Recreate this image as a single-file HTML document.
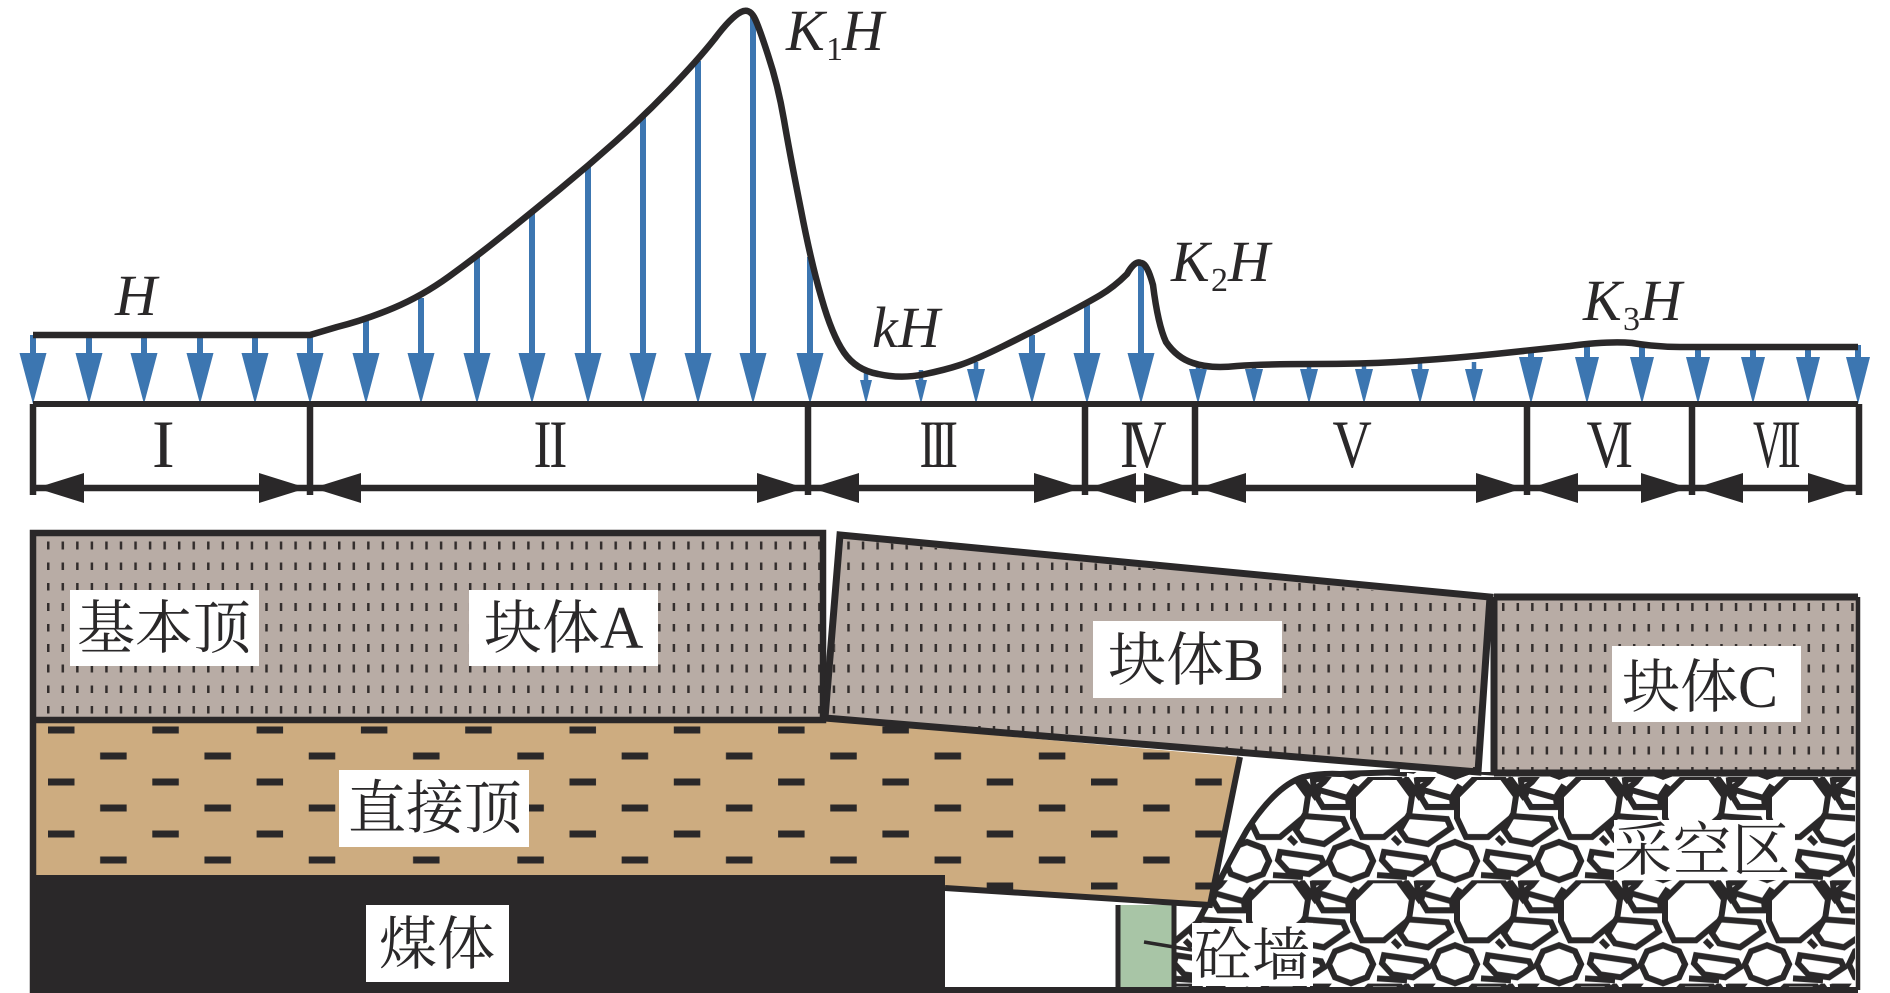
<!DOCTYPE html>
<html><head><meta charset="utf-8"><style>
html,body{margin:0;padding:0;background:#fff;width:1890px;height:993px;overflow:hidden}
svg{display:block}
.it{font-family:"Liberation Serif",serif;font-style:italic;font-size:58px;fill:#2a2829}
.sb{font-family:"Liberation Serif",serif;font-size:34px;fill:#2a2829}
.rn{font-family:"Liberation Serif",serif;font-size:68px;fill:#2a2829}
.cn{font-family:"Liberation Serif","Noto Serif CJK SC",serif;font-size:58px;fill:#2a2829}
</style></head><body>
<svg width="1890" height="993" viewBox="0 0 1890 993" xmlns="http://www.w3.org/2000/svg">
<defs>
<g id="t" fill="none" stroke="#2a2829" stroke-width="6">
<polygon points="22,0 48,0 62,19 59,39 34,60 12,60 3,41 3,19"/>
<polygon points="58,39 97,42 101,51 78,67 57,63 50,53"/>
<polygon points="73,13 102,21 103,30 77,30 71,20"/>
<polygon points="127,84 121,97 105,103 89,97 83,84 89,71 105,65 121,71"/>
<polygon points="23,84 17,97 1,103 -15,97 -21,84 -15,71 1,65 17,71"/>
<polygon points="34,75 75,81 78,87 63,97 42,94 32,83"/>
<polygon points="67,3 82,0 78,5 68,13"/>
<path d="M55,0L71,22M102,20L110,8M43,60L50,67M27,98L57,100"/>
</g>
<pattern id="rub" patternUnits="userSpaceOnUse" x="1350" y="777" width="104" height="103.3">
<use href="#t"/><use href="#t" x="-104"/><use href="#t" y="-103.3"/><use href="#t" x="-104" y="-103.3"/>
</pattern>
<pattern id="tick" patternUnits="userSpaceOnUse" x="47" y="541.5" width="14.55" height="20.5">
<rect width="2.5" height="8" fill="#332e2d"/>
</pattern>
<pattern id="dash" patternUnits="userSpaceOnUse" x="48" y="726.5" width="104.3" height="52">
<rect width="26.5" height="7" fill="#2a2829"/><rect x="52.15" y="26" width="26.5" height="7" fill="#2a2829"/>
</pattern>
<clipPath id="rc"><polygon points="1176,925 1200,920 1215,890 1247,830 1273,797 1303,775 1340,773 1400,772 1855,772 1855,987 1176,987"/></clipPath>
<polygon id="L" points="0,0 -13.5,-51 13.5,-51" fill="#3c76b1"/>
<polygon id="W" points="0,0 -12,-47 12,-47" fill="#3c76b1"/>
<polygon id="M" points="0,0 -9,-35 9,-35" fill="#3c76b1"/>
<polygon id="S" points="0,0 -6,-24 6,-24" fill="#3c76b1"/>
<polygon id="A" points="0,0 48,-15 48,15" fill="#2a2829"/>
<polygon id="B" points="0,0 -48,-15 -48,15" fill="#2a2829"/>
</defs>
<rect width="1890" height="993" fill="#fff"/>

<!-- load shafts -->
<path fill="none" stroke="#3c76b1" stroke-width="6" d="M33 335V360M89 335V360M144 335V360M200 335V360M255 335V360M310 335V360M366 321V360M421 298V360M477 257V360M532 212V360M588 166V360M643 117V360M698 61V360M753 17V360M810 257V360M1032 335V360M1087 305V360M1141 263V360M1531 350V360M1587 345V360M1642 345V360M1698 345V360M1753 345V360M1808 345V360M1858 345V360"/>
<path fill="none" stroke="#3c76b1" stroke-width="4.5" d="M866 370V385M921 370V385M976 362V375M1198 362V375M1254 362V375M1309 362V375M1364 362V375M1420 362V375M1474 362V375"/>
<!-- curve -->
<path fill="none" stroke="#2a2829" stroke-width="6.5" stroke-linejoin="round" d="M33 335L310 335L337 327Q365,320 393.5,308Q422,296 449,276.5Q476,257 504,234.5Q532,212 560,189Q588,166 615.5,141.5Q643,117 670,89Q697,61 714.5,39Q731,17 741,12Q749,8 754,17Q758,24 768,55Q778,85 784,120Q790,155 801,210Q811,262 821.5,298Q832,335 844,352.5Q856,370 878,374Q901,379 923,374.5Q945,370 960,365Q975,360 1003.5,346Q1032,332 1059.5,317.5Q1087,303 1100.5,295Q1114,287 1127,274Q1135,260 1141,263Q1147,263 1153,285Q1158,325 1166,342Q1177,358 1193,363Q1210,369 1237,366Q1264,364 1315,364Q1367,364 1412,361Q1457,358 1495,354Q1533,350 1570,346Q1608,341 1632,343Q1656,347 1680,347L1858,347"/>
<!-- heads -->
<g>
<use href="#L" x="33" y="404"/><use href="#L" x="89" y="404"/><use href="#L" x="144" y="404"/><use href="#L" x="200" y="404"/><use href="#L" x="255" y="404"/><use href="#L" x="310" y="404"/><use href="#L" x="366" y="404"/><use href="#L" x="421" y="404"/><use href="#L" x="477" y="404"/><use href="#L" x="532" y="404"/><use href="#L" x="588" y="404"/><use href="#L" x="643" y="404"/><use href="#L" x="698" y="404"/><use href="#L" x="753" y="404"/><use href="#L" x="810" y="404"/>
<use href="#S" x="866" y="404"/><use href="#S" x="921" y="404"/>
<use href="#M" x="976" y="404"/><use href="#L" x="1032" y="404"/><use href="#L" x="1087" y="404"/><use href="#L" x="1141" y="404"/>
<use href="#M" x="1198" y="404"/><use href="#M" x="1254" y="404"/><use href="#M" x="1309" y="404"/><use href="#M" x="1364" y="404"/><use href="#M" x="1420" y="404"/><use href="#M" x="1474" y="404"/>
<use href="#W" x="1531" y="404"/><use href="#W" x="1587" y="404"/><use href="#W" x="1642" y="404"/><use href="#W" x="1698" y="404"/><use href="#W" x="1753" y="404"/><use href="#W" x="1808" y="404"/><use href="#W" x="1858" y="404"/>
</g>
<!-- axis -->
<rect x="33" y="401" width="1825" height="6" fill="#2a2829"/>
<path fill="none" stroke="#2a2829" stroke-width="6.5" d="M33 404V495M310 404V495M808 404V495M1085 404V495M1195 404V495M1527 404V495M1692 404V495M1859 404V495"/>
<!-- dimension arrows -->
<path fill="none" stroke="#2a2829" stroke-width="6.5" d="M36 488H307M313 488H805M811 488H1082M1088 488H1192M1198 488H1524M1530 488H1689M1695 488H1856"/>
<g>
<use href="#A" x="36" y="488"/><use href="#B" x="307" y="488"/><use href="#A" x="313" y="488"/><use href="#B" x="805" y="488"/><use href="#A" x="811" y="488"/><use href="#B" x="1082" y="488"/><use href="#A" x="1088" y="488"/><use href="#B" x="1192" y="488"/><use href="#A" x="1198" y="488"/><use href="#B" x="1524" y="488"/><use href="#A" x="1530" y="488"/><use href="#B" x="1689" y="488"/><use href="#A" x="1695" y="488"/><use href="#B" x="1856" y="488"/>
</g>
<!-- roman numerals -->
<text class="rn" x="152" y="467">I</text>
<text class="rn" transform="translate(533.5,467) scale(.8,1)" style="letter-spacing:-3px">II</text>
<text class="rn" transform="translate(919.5,467) scale(.7,1)" style="letter-spacing:-6.5px">III</text>
<text class="rn" transform="translate(1120,467) scale(.8,1)" style="letter-spacing:-13.5px">IV</text>
<text class="rn" transform="translate(1332.5,467) scale(.8,1)">V</text>
<text class="rn" transform="translate(1586.5,467) scale(.8,1)" style="letter-spacing:-13.5px">VI</text>
<text class="rn" transform="translate(1753,467) scale(.6,1)" style="letter-spacing:-7.5px">VII</text>
<!-- stress labels -->
<text class="it" x="115" y="315">H</text>
<text class="it" x="786" y="50">K</text><text class="sb" x="826" y="60">1</text><text class="it" x="842" y="50">H</text>
<text class="it" x="1171" y="281">K</text><text class="sb" x="1211" y="291">2</text><text class="it" x="1228" y="281">H</text>
<text class="it" x="1583" y="320">K</text><text class="sb" x="1623" y="330">3</text><text class="it" x="1640" y="320">H</text>
<text class="it" x="872" y="347">k</text><text class="it" x="898" y="347">H</text>

<!-- rubble -->
<rect x="1170" y="765" width="690" height="225" fill="url(#rub)" clip-path="url(#rc)"/>
<path fill="none" stroke="#2a2829" stroke-width="6" d="M1196 925L1215 890Q1230 860 1247 830Q1260 810 1273 797Q1288 782 1303 777Q1320 773 1340 774L1400 772"/>
<!-- block fills -->
<rect x="33" y="533" width="790" height="187" fill="#b8aca5"/>
<polygon points="840,535 1490,597 1478,772 825,718" fill="#b8aca5"/>
<rect x="1494" y="597" width="364" height="176" fill="#b8aca5"/>
<rect x="36" y="536" width="785" height="182" fill="url(#tick)"/>
<polygon points="843,539 1486,601 1475,769 829,716" fill="url(#tick)"/>
<rect x="1497" y="601" width="358" height="170" fill="url(#tick)"/>
<!-- tan -->
<polygon points="36,722 823,720 1240,757 1210,905 945,888 945,875 36,875" fill="#cdac80"/>
<polygon points="36,722 823,720 1240,757 1210,905 945,888 945,875 36,875" fill="url(#dash)"/>
<!-- coal and outline -->
<rect x="30" y="875" width="915" height="118" fill="#2a2829"/>
<rect x="1120" y="905" width="53" height="84" fill="#a8c5a6"/>
<g fill="none" stroke="#2a2829">
<path stroke-width="6.5" d="M33 533H823V720H33ZM33 533V993"/>
<polygon stroke-width="7" points="840,535 1490,597 1478,772 825,718"/>
<path stroke-width="7" d="M1494 597H1858M1494 597V773M1494 773H1858"/>
<path stroke-width="4.5" d="M1858 597V990"/>
<path stroke-width="6" d="M945 888L1210 905L1240 757"/>
<path stroke-width="5" d="M1118 905V990M1174 905V990"/>
<path stroke-width="6" d="M945 990H1858"/>
<path stroke-width="3.5" d="M1144 942L1192 950"/>
</g>
<!-- labels -->
<g fill="#fff">
<rect x="70" y="590" width="189" height="76"/>
<rect x="469" y="590" width="189" height="76"/>
<rect x="339" y="770" width="190" height="77"/>
<rect x="366" y="905" width="143" height="77"/>
<rect x="1093" y="621" width="189" height="77"/>
<rect x="1612" y="646" width="189" height="76"/>
<rect x="1614" y="820" width="181" height="60"/>
<rect x="1192" y="923" width="121" height="63"/>
</g>
<text class="cn" x="77" y="648">基本顶</text>
<text class="cn" x="484" y="648">块体<tspan font-size="60">A</tspan></text>
<text class="cn" x="348" y="828">直接顶</text>
<text class="cn" x="379" y="964">煤体</text>
<text class="cn" x="1108" y="680">块体<tspan font-size="60">B</tspan></text>
<text class="cn" x="1622" y="707">块体<tspan font-size="60">C</tspan></text>
<text class="cn" x="1614" y="870" textLength="176" lengthAdjust="spacing">采空区</text>
<text class="cn" x="1194" y="975">砼墙</text>
</svg>
</body></html>
